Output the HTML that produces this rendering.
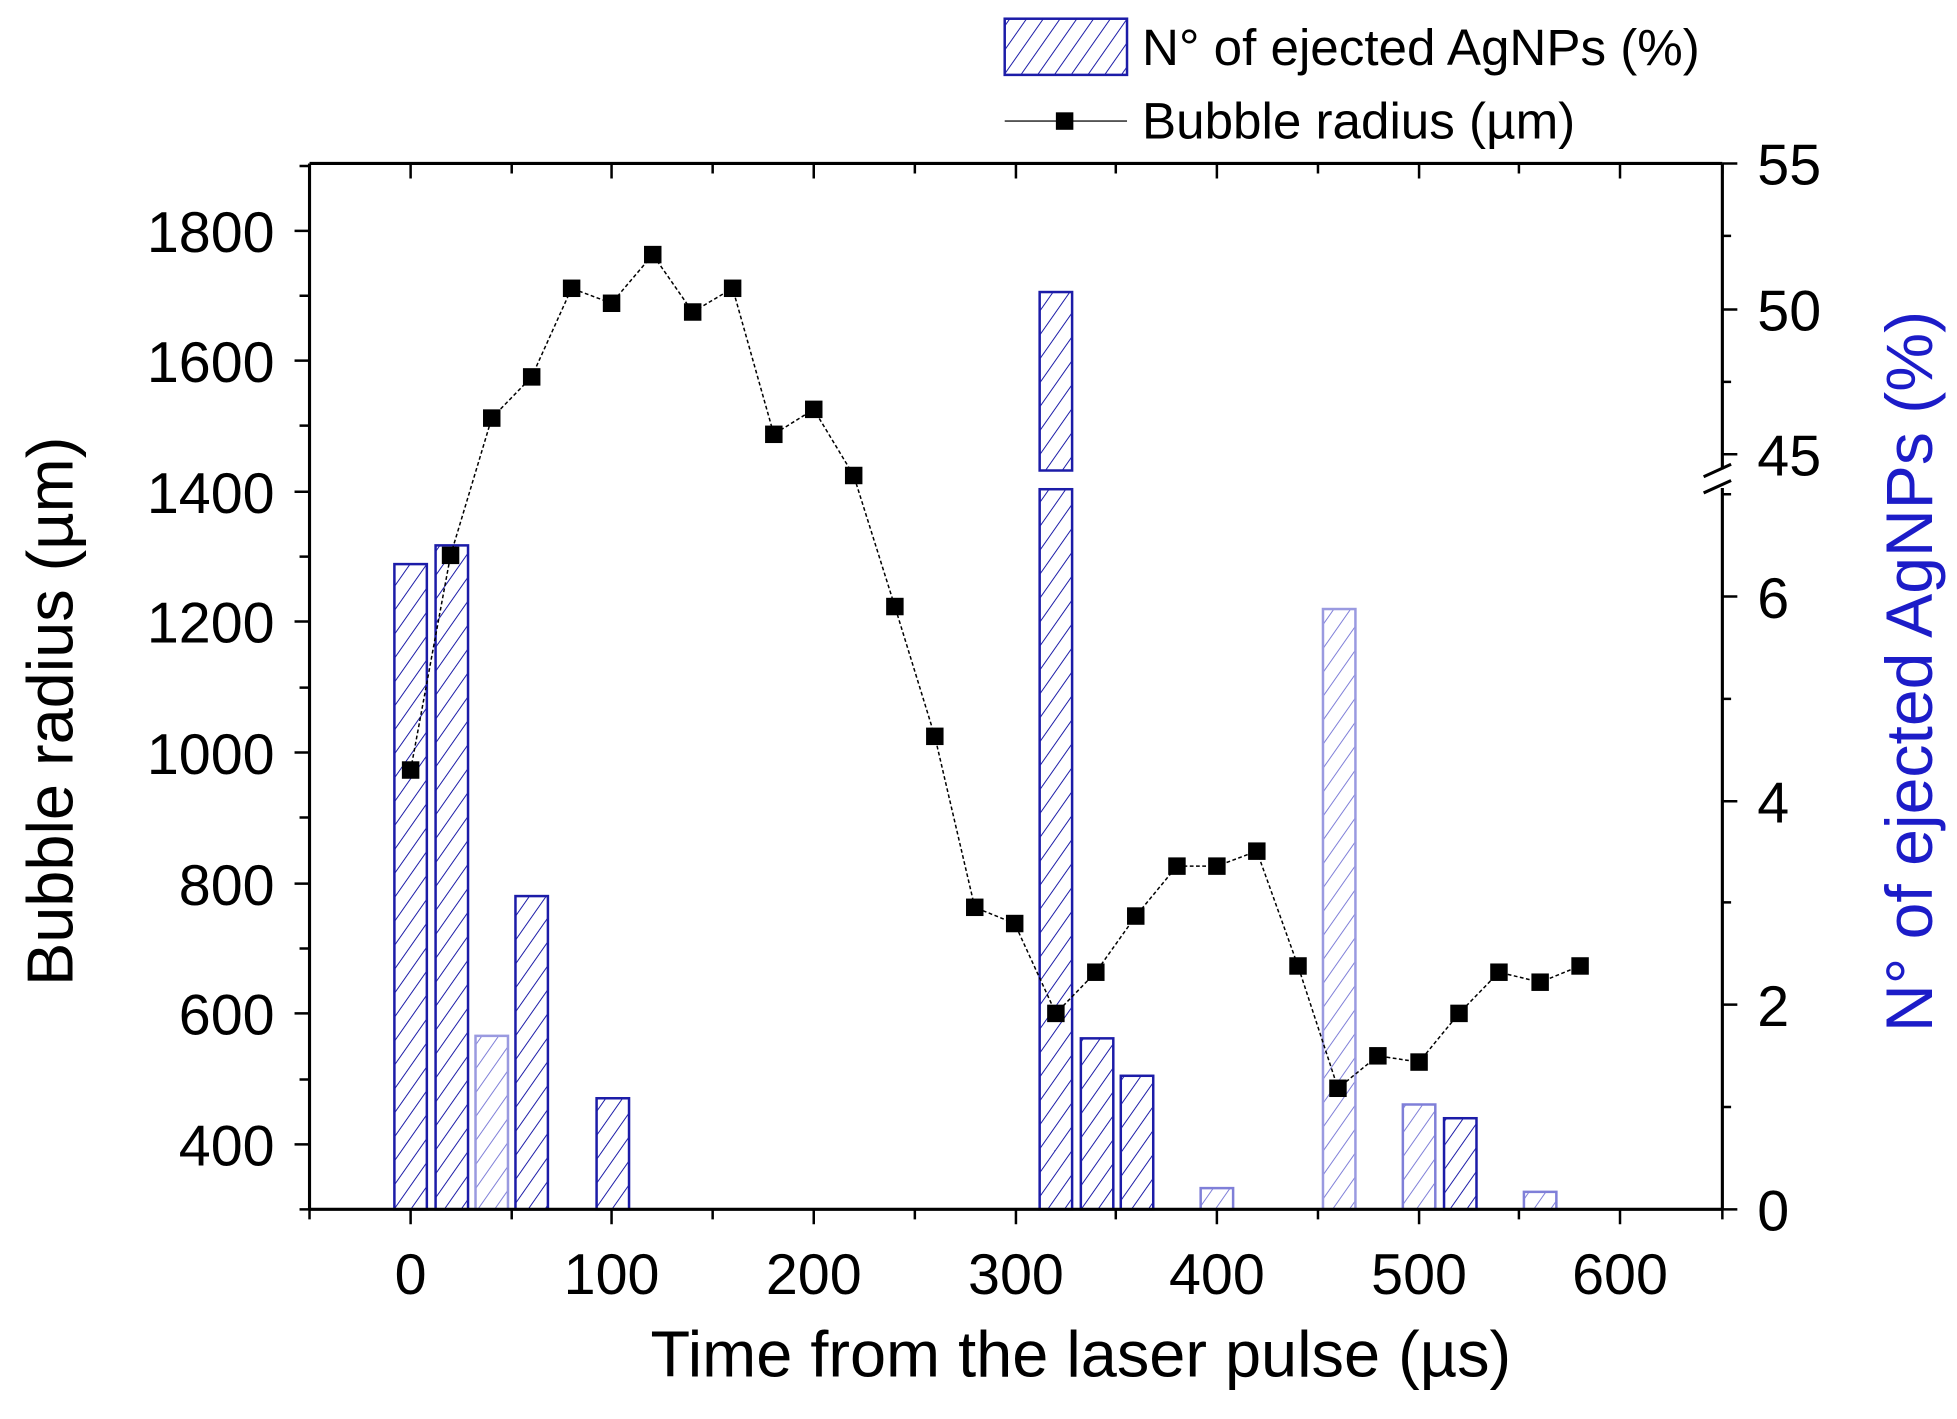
<!DOCTYPE html>
<html><head><meta charset="utf-8"><style>html,body{margin:0;padding:0;background:#fff;}svg{display:block}</style></head>
<body>
<svg width="1957" height="1419" viewBox="0 0 1568 1137" preserveAspectRatio="none" xmlns="http://www.w3.org/2000/svg" font-family="Liberation Sans, Arial, sans-serif">
<defs>
<pattern id="h" patternUnits="userSpaceOnUse" width="11" height="11" patternTransform="rotate(35)">
<line x1="0" y1="0" x2="0" y2="11" stroke="#1c1ca8" stroke-width="1.6"/>
</pattern>
<pattern id="hl" patternUnits="userSpaceOnUse" width="11" height="11" patternTransform="rotate(35)">
<line x1="0" y1="0" x2="0" y2="11" stroke="#7f7fd8" stroke-width="1.6"/>
</pattern>
</defs>
<rect width="1568" height="1137" fill="#fff"/>
<g stroke-width="2">
<rect x="316" y="452" width="26" height="517" fill="url(#h)" stroke="#1c1ca8"/>
<rect x="349" y="437" width="26" height="532" fill="url(#h)" stroke="#1c1ca8"/>
<rect x="381" y="830" width="26" height="139" fill="url(#hl)" stroke="#9a9ae0"/>
<rect x="413" y="718" width="26" height="251" fill="url(#h)" stroke="#1c1ca8"/>
<rect x="478" y="880" width="26" height="89" fill="url(#h)" stroke="#1c1ca8"/>
<rect x="833" y="234" width="26" height="143" fill="url(#h)" stroke="#1c1ca8"/>
<rect x="833" y="392" width="26" height="577" fill="url(#h)" stroke="#1c1ca8"/>
<rect x="866" y="832" width="26" height="137" fill="url(#h)" stroke="#1c1ca8"/>
<rect x="898" y="862" width="26" height="107" fill="url(#h)" stroke="#1c1ca8"/>
<rect x="962" y="952" width="26" height="17" fill="url(#hl)" stroke="#7f7fd8"/>
<rect x="1060" y="488" width="26" height="481" fill="url(#hl)" stroke="#9a9ae0"/>
<rect x="1124" y="885" width="26" height="84" fill="url(#hl)" stroke="#7f7fd8"/>
<rect x="1157" y="896" width="26" height="73" fill="url(#h)" stroke="#1c1ca8"/>
<rect x="1221" y="955" width="26" height="14" fill="url(#hl)" stroke="#7f7fd8"/>
</g>
<polyline fill="none" stroke="#000" stroke-width="1.2" stroke-dasharray="3,2" points="329,617 361,445 394,335 426,302 458,231 490,243 523,204 555,250 587,231 620,348 652,328 684,381 717,486 749,590 781,727 813,740 846,812 878,779 910,734 943,694 975,694 1007,682 1040,774 1072,872 1104,846 1137,851 1169,812 1201,779 1234,787 1266,774"/>
<g fill="#000">
<rect x="322" y="610" width="14" height="14"/><rect x="354" y="438" width="14" height="14"/><rect x="387" y="328" width="14" height="14"/><rect x="419" y="295" width="14" height="14"/><rect x="451" y="224" width="14" height="14"/><rect x="483" y="236" width="14" height="14"/><rect x="516" y="197" width="14" height="14"/><rect x="548" y="243" width="14" height="14"/><rect x="580" y="224" width="14" height="14"/><rect x="613" y="341" width="14" height="14"/><rect x="645" y="321" width="14" height="14"/><rect x="677" y="374" width="14" height="14"/><rect x="710" y="479" width="14" height="14"/><rect x="742" y="583" width="14" height="14"/><rect x="774" y="720" width="14" height="14"/><rect x="806" y="733" width="14" height="14"/><rect x="839" y="805" width="14" height="14"/><rect x="871" y="772" width="14" height="14"/><rect x="903" y="727" width="14" height="14"/><rect x="936" y="687" width="14" height="14"/><rect x="968" y="687" width="14" height="14"/><rect x="1000" y="675" width="14" height="14"/><rect x="1033" y="767" width="14" height="14"/><rect x="1065" y="865" width="14" height="14"/><rect x="1097" y="839" width="14" height="14"/><rect x="1130" y="844" width="14" height="14"/><rect x="1162" y="805" width="14" height="14"/><rect x="1194" y="772" width="14" height="14"/><rect x="1227" y="780" width="14" height="14"/><rect x="1259" y="767" width="14" height="14"/>
</g>
<g stroke="#000" stroke-width="2.5" fill="none">
<line x1="248" y1="131" x2="1380" y2="131"/>
<line x1="248" y1="969" x2="1380" y2="969"/>
<line x1="248" y1="131" x2="248" y2="969"/>
<line x1="1380" y1="131" x2="1380" y2="376"/>
<line x1="1380" y1="391" x2="1380" y2="969"/>
<line x1="1365" y1="382" x2="1387" y2="372"/>
<line x1="1365" y1="395" x2="1387" y2="385"/>
</g>
<g stroke="#000" stroke-width="2">
<path d="M248 969v8M329 969v12M410 969v8M490 969v12M571 969v8M652 969v12M733 969v8M814 969v12M894 969v8M975 969v12M1056 969v8M1137 969v12M1217 969v8M1298 969v12M1380 969v8"/>
<path d="M248 131v8M329 131v12M410 131v8M490 131v12M571 131v8M652 131v12M733 131v8M814 131v12M894 131v8M975 131v12M1056 131v8M1137 131v12M1217 131v8M1298 131v12M1380 131v8"/>
<path d="M248 969h-8M248 917h-12M248 865h-8M248 812h-12M248 760h-8M248 708h-12M248 655h-8M248 603h-12M248 551h-8M248 498h-12M248 446h-8M248 394h-12M248 341h-8M248 289h-12M248 237h-8M248 185h-12M248 133h-8"/>
<path d="M1380 969h12M1380 887h7M1380 805h12M1380 723h7M1380 642h12M1380 560h7M1380 478h12M1380 396h7M1380 364h12M1380 306h7M1380 248h12M1380 189h7M1380 131h12"/>
</g>
<g font-size="47" fill="#000" text-anchor="end" transform="scale(1,1.08)">
</g>
<g font-size="46" fill="#000" text-anchor="end">
<text x="220" y="202">1800</text><text x="220" y="306">1600</text><text x="220" y="411">1400</text><text x="220" y="515">1200</text><text x="220" y="620">1000</text><text x="220" y="725">800</text><text x="220" y="829">600</text><text x="220" y="934">400</text>
</g>
<g font-size="46" fill="#000">
<text x="1408" y="986">0</text><text x="1408" y="822">2</text><text x="1408" y="659">4</text><text x="1408" y="495">6</text><text x="1408" y="381">45</text><text x="1408" y="265">50</text><text x="1408" y="148">55</text>
</g>
<g font-size="46" fill="#000" text-anchor="middle">
<text x="329" y="1037">0</text><text x="490" y="1037">100</text><text x="652" y="1037">200</text><text x="814" y="1037">300</text><text x="975" y="1037">400</text><text x="1137" y="1037">500</text><text x="1298" y="1037">600</text>
<text x="866" y="1103" font-size="52">Time from the laser pulse (µs)</text>
</g>
<text transform="translate(58,570) rotate(-90)" font-size="52" text-anchor="middle" fill="#000">Bubble radius (µm)</text>
<text transform="translate(1548,538) rotate(-90)" font-size="53" text-anchor="middle" fill="#1c1cc8">N° of ejected AgNPs (%)</text>
<rect x="805" y="15" width="98" height="45" fill="url(#h)" stroke="#1c1ca8" stroke-width="2"/>
<text x="915" y="52" font-size="41" fill="#000">N° of ejected AgNPs (%)</text>
<line x1="805" y1="97" x2="903" y2="97" stroke="#555" stroke-width="1.5"/>
<rect x="846" y="90" width="14" height="14" fill="#000"/>
<text x="915" y="111" font-size="41" fill="#000">Bubble radius (µm)</text>
</svg>
</body></html>
